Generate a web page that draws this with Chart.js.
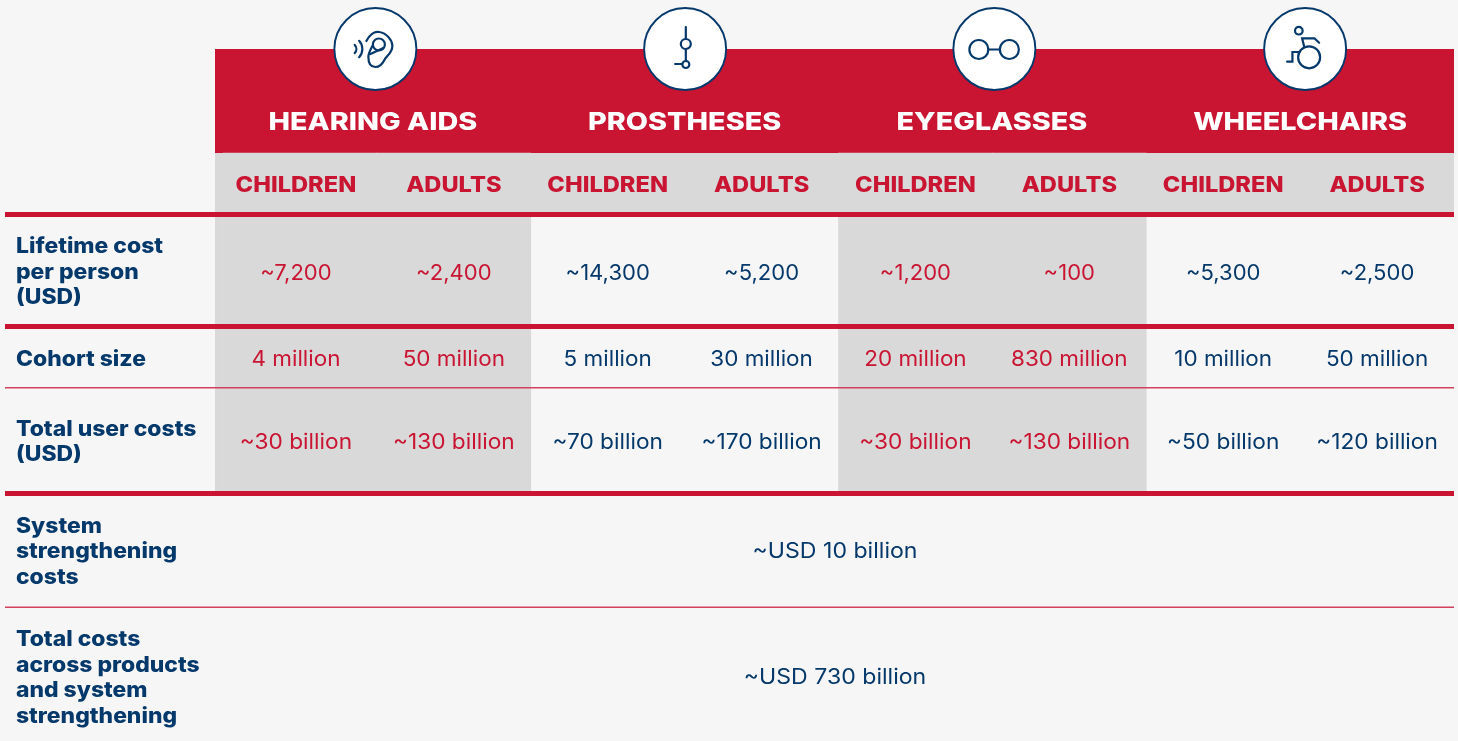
<!DOCTYPE html>
<html>
<head>
<meta charset="utf-8">
<script src="https://cdn.jsdelivr.net/npm/chart.js@4/dist/chart.umd.min.js"></script>
<style>
  html, body { margin: 0; padding: 0; background: #f6f6f6; overflow: hidden; }
  canvas { display: block; }
</style>
</head>
<body>
<canvas id="costsChart" width="1458" height="741"></canvas>
<script>
// table content
var products = ["HEARING AIDS", "PROSTHESES", "EYEGLASSES", "WHEELCHAIRS"];
var groups = ["CHILDREN", "ADULTS", "CHILDREN", "ADULTS", "CHILDREN", "ADULTS", "CHILDREN", "ADULTS"];
var lifetimeCost = [7200, 2400, 14300, 5200, 1200, 100, 5300, 2500];
var cohortMillions = [4, 50, 5, 30, 20, 830, 10, 50];
var userCostBillions = [30, 130, 70, 170, 30, 130, 50, 120];
var systemCostBillions = 10;
var totalCostBillions = 730;
var rowTitles = [
    ["Lifetime cost", "per person", "(USD)"],
    ["Cohort size"],
    ["Total user costs", "(USD)"],
    ["System", "strengthening", "costs"],
    ["Total costs", "across products", "and system", "strengthening"]
];

// layout, in the y scale's units (the scale runs 0-741 top to bottom)
var textMiddle = [273.5, 359.5, 442.5, 552, 678];
var titleMiddle = [272.5, 359.5, 442, 552, 678];
var cellStretch = [1.05, 1.07, 1.08];
var shadedTop = 153;
var shadedBottom = 492;
var headerTop = 49;
var headerBottom = 153;
var iconNudge = [-1.5, 0.5, 2, 5];
var titleNudge = [-4, 0, -0.5, 0];

var red = "#c91432";
var navy = "#05386b";
var grey = "#d9d9d9";

function fmt(n) { return n.toLocaleString("en-US"); }

var shaded = [true, true, false, false, true, true, false, false];
var cellRows = [
    lifetimeCost.map(function (v) { return "~" + fmt(v); }),
    cohortMillions.map(function (v) { return v + " million"; }),
    userCostBillions.map(function (v) { return "~" + v + " billion"; })
];

// text stretched sideways, the original type is wider than anything installed
function wideText(ctx, text, x, y, stretch, align) {
    ctx.save();
    ctx.translate(x, y);
    ctx.scale(stretch, 1);
    ctx.textAlign = align || "center";
    ctx.textBaseline = "middle";
    ctx.fillText(text, 0, 0);
    ctx.restore();
}

function rule(ctx, y, h, color) {
    ctx.fillStyle = color;
    ctx.fillRect(5, y, 1449, h);
}

function stroke(ctx, fn) {
    ctx.beginPath();
    fn();
    ctx.stroke();
}

var icons = [
    function (ctx) { // ear
        stroke(ctx, function () {
            ctx.moveTo(-9, -8);
            ctx.bezierCurveTo(-6, -14, -1, -18, 4, -17);
            ctx.bezierCurveTo(11, -16, 17, -9, 17, -3);
            ctx.bezierCurveTo(17, 4, 11, 7, 9, 11);
            ctx.bezierCurveTo(7, 15, 5, 18, 0, 18);
            ctx.bezierCurveTo(-6, 18, -7, 12, -7, 8);
            ctx.bezierCurveTo(-7, 4, -5, 1, -3, -3);
        });
        stroke(ctx, function () { ctx.arc(3.5, -4.5, 6, 0, Math.PI * 2); });
        stroke(ctx, function () { ctx.moveTo(-5, 5); ctx.lineTo(8, -1); });
        stroke(ctx, function () { ctx.arc(-25, 0, 6, -0.75, 0.75); });
        stroke(ctx, function () { ctx.arc(-25, 0, 12, -0.75, 0.75); });
    },
    function (ctx) { // prosthesis
        stroke(ctx, function () { ctx.moveTo(0.7, -22); ctx.lineTo(0.7, -10); });
        stroke(ctx, function () { ctx.arc(0.7, -5, 5, 0, Math.PI * 2); });
        stroke(ctx, function () { ctx.moveTo(0.7, 0); ctx.lineTo(0.7, 12); });
        stroke(ctx, function () { ctx.arc(0.7, 15.5, 3.5, 0, Math.PI * 2); });
        stroke(ctx, function () { ctx.moveTo(-10, 15); ctx.lineTo(-3, 15); });
    },
    function (ctx) { // glasses
        stroke(ctx, function () { ctx.arc(-15.5, 0.5, 9.5, 0, Math.PI * 2); });
        stroke(ctx, function () { ctx.arc(15, 0.5, 9.5, 0, Math.PI * 2); });
        stroke(ctx, function () { ctx.moveTo(-6, 0.5); ctx.lineTo(5.5, 0.5); });
    },
    function (ctx) { // wheelchair
        stroke(ctx, function () { ctx.arc(-6.3, -18.3, 3.8, 0, Math.PI * 2); });
        stroke(ctx, function () { ctx.arc(4, 8.3, 11, 0, Math.PI * 2); });
        stroke(ctx, function () {
            ctx.moveTo(-1, -2.5);
            ctx.lineTo(-3, -10.7);
            ctx.lineTo(9.3, -10.7);
            ctx.lineTo(14, -6.3);
        });
        stroke(ctx, function () {
            ctx.moveTo(-18, 12.7);
            ctx.lineTo(-12.7, 12.7);
            ctx.lineTo(-12.7, 3);
            ctx.lineTo(-5.3, 3);
        });
    }
];

var tablePlugin = {
    id: "tablePlugin",
    beforeDatasetsDraw: function (chart) {
        var ctx = chart.ctx;
        var x = chart.scales.x;
        ctx.save();
        // the first shaded column runs a little past the category band
        ctx.fillStyle = grey;
        ctx.fillRect(215, shadedTop, x.getPixelForValue(0) - 77 - 215, shadedBottom - shadedTop);
        ctx.fillRect(215, shadedTop, 1239, 60);
        ctx.fillStyle = red;
        ctx.fillRect(215, headerTop, 1239, headerBottom - headerTop);
        ctx.restore();
    },
    afterDatasetsDraw: function (chart) {
        var ctx = chart.ctx;
        var x = chart.scales.x;
        var y = chart.scales.y;
        ctx.save();

        // rules
        rule(ctx, 212, 5, red);
        rule(ctx, 324, 5, red);
        rule(ctx, 387, 1.5, "#d3405c");
        rule(ctx, 491, 5, red);
        rule(ctx, 606.5, 1.5, "#d3405c");

        // product titles and icons
        products.forEach(function (name, i) {
            var cx = (x.getPixelForValue(i * 2) + x.getPixelForValue(i * 2 + 1)) / 2;
            ctx.fillStyle = "#ffffff";
            ctx.font = "800 24.5px Inter";
            wideText(ctx, name, cx + titleNudge[i], 122.5, 1.175);

            ctx.save();
            ctx.translate(cx + iconNudge[i], 49);
            ctx.beginPath();
            ctx.arc(0, 0, 41, 0, Math.PI * 2);
            ctx.fillStyle = "#ffffff";
            ctx.fill();
            ctx.strokeStyle = navy;
            ctx.lineWidth = 1.9;
            ctx.stroke();
            ctx.lineWidth = 2.2;
            ctx.lineCap = "round";
            icons[i](ctx);
            ctx.restore();
        });

        // children / adults
        groups.forEach(function (g, i) {
            ctx.fillStyle = red;
            ctx.font = "800 21.5px Inter";
            wideText(ctx, g, x.getPixelForValue(i) + (i === 0 ? -4 : 0), 186, 1.1);
        });

        // row titles
        rowTitles.forEach(function (lines, r) {
            ctx.fillStyle = navy;
            ctx.font = "800 21px Inter";
            var lh = 25.5;
            var start = y.getPixelForValue(titleMiddle[r]) - (lines.length - 1) * lh / 2;
            lines.forEach(function (line, n) {
                wideText(ctx, line, 16, start + n * lh, 1.09, "left");
            });
        });

        // values
        cellRows.forEach(function (cells, r) {
            cells.forEach(function (text, c) {
                ctx.fillStyle = shaded[c] ? red : navy;
                ctx.font = "21px Inter";
                wideText(ctx, text, x.getPixelForValue(c) + (c === 0 ? -4 : 0), y.getPixelForValue(textMiddle[r]), cellStretch[r]);
            });
        });

        // merged rows
        ctx.fillStyle = navy;
        ctx.font = "21px Inter";
        wideText(ctx, "~USD " + systemCostBillions + " billion", 835, y.getPixelForValue(textMiddle[3]), 1.1);
        wideText(ctx, "~USD " + totalCostBillions + " billion", 835, y.getPixelForValue(textMiddle[4]), 1.1);
        ctx.restore();
    }
};

new Chart(document.getElementById("costsChart"), {
    type: "bar",
    data: {
        labels: groups,
        datasets: [{
            label: "Shaded columns",
            data: shaded.map(function (on) { return on ? [shadedTop, shadedBottom] : null; }),
            backgroundColor: grey,
            barPercentage: 1,
            categoryPercentage: 1
        }]
    },
    options: {
        responsive: false,
        animation: false,
        maintainAspectRatio: false,
        layout: { padding: { left: 223, right: 4, top: 0, bottom: 0 } },
        plugins: {
            legend: { display: false },
            title: { display: false },
            tooltip: { enabled: false }
        },
        scales: {
            x: { type: "category", display: false },
            y: { type: "linear", display: false, reverse: true, min: 0, max: 741 }
        }
    },
    plugins: [tablePlugin]
});
</script>
</body>
</html>
